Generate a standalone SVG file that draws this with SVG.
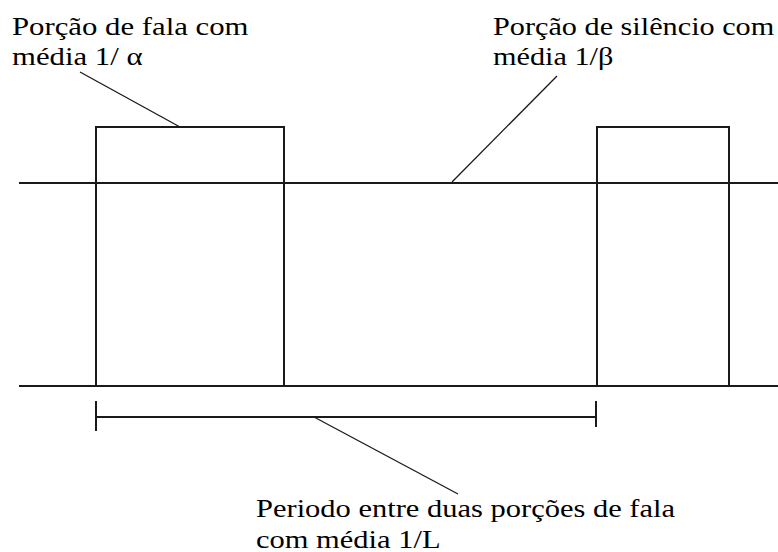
<svg xmlns="http://www.w3.org/2000/svg" width="778" height="552" viewBox="0 0 778 552">
  <style>
    .ln { stroke: #1a1a1a; stroke-width: 2; fill: none; stroke-linecap: butt; }
    .ld { stroke: #1a1a1a; stroke-width: 1.3; fill: none; }
    .tx { font-family: "Liberation Serif", "Times New Roman", Times, serif; font-size: 25px; fill: #000; }
  </style>
  <rect width="778" height="552" fill="#fff"/>
  <g id="axes">
    <line class="ln" x1="19" y1="183" x2="778" y2="183"/>
    <line class="ln" x1="19" y1="386" x2="778" y2="386"/>
  </g>
  <g id="fala-1">
    <polyline class="ln" points="96,386 96,127 284,127 284,386"/>
  </g>
  <g id="fala-2">
    <polyline class="ln" points="597,386 597,127 729,127 729,386"/>
  </g>
  <g id="periodo">
    <line class="ln" x1="96" y1="401" x2="96" y2="431"/>
    <line class="ln" x1="96" y1="417" x2="596" y2="417"/>
    <line class="ln" x1="596" y1="401" x2="596" y2="427"/>
  </g>
  <g id="label-fala" class="tx" transform="translate(12 0) scale(1.23 1)">
    <text x="0" y="35">Porção de fala com</text>
    <text x="0" y="65">média 1/ α</text>
  </g>
  <g id="label-silencio" class="tx" transform="translate(493 0) scale(1.21 1)">
    <text x="0" y="35">Porção de silêncio com</text>
    <text x="0" y="65">média 1/β</text>
  </g>
  <g id="label-periodo" class="tx" transform="translate(256 0) scale(1.22 1)">
    <text x="0" y="517">Periodo entre duas porções de fala</text>
    <text x="0" y="548">com média 1/L</text>
  </g>
  <g id="connectors">
    <line class="ld" x1="80" y1="72" x2="180" y2="127"/>
    <line class="ld" x1="557" y1="76" x2="452" y2="182"/>
    <line class="ld" x1="314" y1="417" x2="458" y2="494"/>
  </g>
</svg>
